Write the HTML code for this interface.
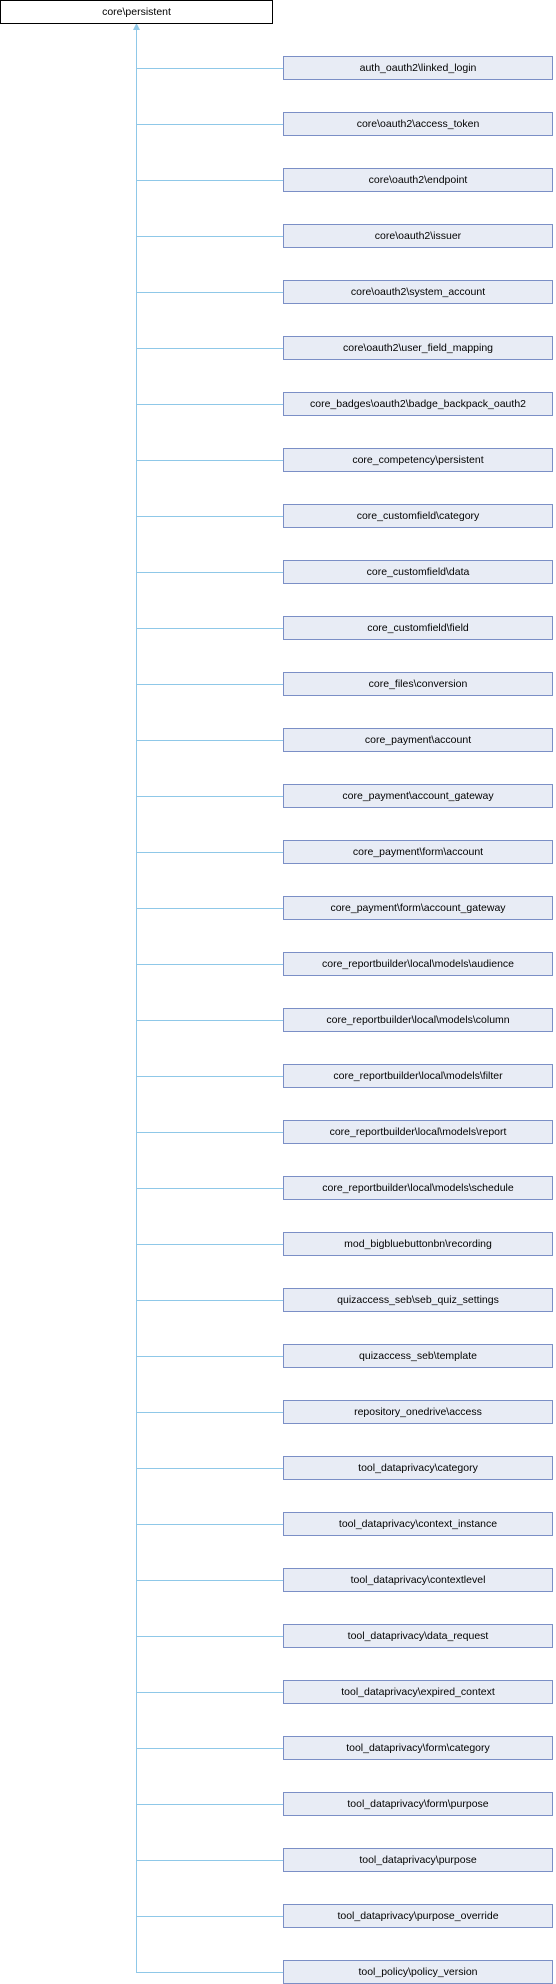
<!DOCTYPE html>
<html><head><meta charset="utf-8"><style>
body{margin:0;width:556px;height:1984px;position:relative;background:#fff;font-family:"Liberation Sans",Arial,sans-serif;font-size:10.5px;color:#000;overflow:hidden}
.b{position:absolute;box-sizing:border-box;height:24px;line-height:22px;text-align:center;white-space:nowrap}
.n{left:283px;width:270px;border:1px solid #7b8fc6;background:#e8ecf5}
.top{left:0;top:0;width:273px;border:1px solid #000;background:#fff}
svg{position:absolute;left:0;top:0}
</style></head><body>
<svg width="556" height="1984" id="s" shape-rendering="crispEdges"></svg>
<div class="b top">core\persistent</div>
<div id="c"></div>
<script>
var names=["auth_oauth2\\linked_login","core\\oauth2\\access_token","core\\oauth2\\endpoint","core\\oauth2\\issuer","core\\oauth2\\system_account","core\\oauth2\\user_field_mapping","core_badges\\oauth2\\badge_backpack_oauth2","core_competency\\persistent","core_customfield\\category","core_customfield\\data","core_customfield\\field","core_files\\conversion","core_payment\\account","core_payment\\account_gateway","core_payment\\form\\account","core_payment\\form\\account_gateway","core_reportbuilder\\local\\models\\audience","core_reportbuilder\\local\\models\\column","core_reportbuilder\\local\\models\\filter","core_reportbuilder\\local\\models\\report","core_reportbuilder\\local\\models\\schedule","mod_bigbluebuttonbn\\recording","quizaccess_seb\\seb_quiz_settings","quizaccess_seb\\template","repository_onedrive\\access","tool_dataprivacy\\category","tool_dataprivacy\\context_instance","tool_dataprivacy\\contextlevel","tool_dataprivacy\\data_request","tool_dataprivacy\\expired_context","tool_dataprivacy\\form\\category","tool_dataprivacy\\form\\purpose","tool_dataprivacy\\purpose","tool_dataprivacy\\purpose_override","tool_policy\\policy_version"];
var h="",s='<rect x="136" y="29" width="1" height="1944" fill="#8fc8e8"/><path d="M136.5 23 L133 30 L140 30 Z" fill="#8fc8e8" shape-rendering="auto"/>';
names.forEach(function(n,i){var y=56+i*56;h+='<div class="b n" style="top:'+y+'px">'+n+'</div>';
s+='<rect x="136" y="'+(y+12)+'" width="147" height="1" fill="#8fc8e8"/>';
if(i==7||i==26)s+='<path d="M553 '+(y+17)+' L553 '+(y+24)+' L546 '+(y+24)+' Z" fill="#7b8fc6" shape-rendering="auto"/>';});
document.getElementById("c").innerHTML=h;document.getElementById("s").innerHTML=s;
</script>
</body></html>
